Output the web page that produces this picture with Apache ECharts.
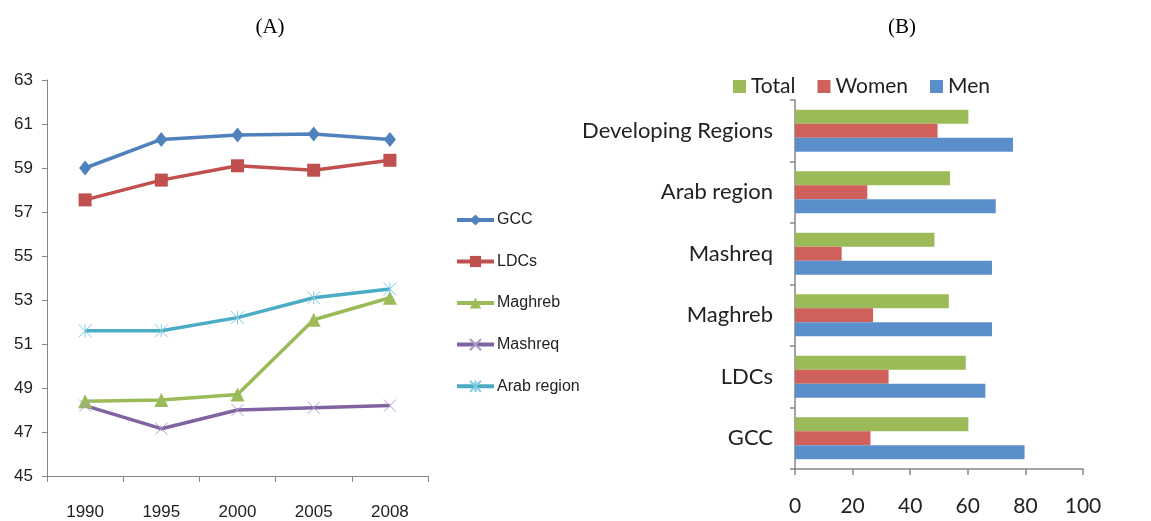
<!DOCTYPE html>
<html>
<head>
<meta charset="utf-8">
<script src="https://cdn.jsdelivr.net/npm/echarts@6/dist/echarts.min.js"></script>
<style>html,body{margin:0;padding:0;background:#fff}#c{width:1151px;height:521px}</style>
</head>
<body>
<div id="c"></div>
<script>
// Panel A data
const years = ['1990', '1995', '2000', '2005', '2008'];
const gcc = [59.0, 60.3, 60.5, 60.55, 60.3];
const ldcs = [57.55, 58.45, 59.1, 58.9, 59.35];
const maghreb = [48.4, 48.45, 48.7, 52.1, 53.1];
const mashreq = [48.2, 47.15, 48.0, 48.1, 48.2];
const arabRegion = [51.6, 51.6, 52.2, 53.1, 53.5];
const yTicksA = [45, 63, 2];

// Panel B data (bottom to top)
const regions = ['GCC', 'LDCs', 'Maghreb', 'Mashreq', 'Arab region', 'Developing Regions'];
const total = [60.2, 59.3, 53.4, 48.4, 53.8, 60.2];
const women = [26.2, 32.5, 27.1, 16.2, 25.1, 49.5];
const men = [79.7, 66.1, 68.4, 68.4, 69.7, 75.7];

const C = {blue:'#4F81BD', red:'#C0504D', green:'#9BBB59', purple:'#8064A2', cyan:'#4BACC6'};
const fA = "'Liberation Sans', sans-serif";
const fB = "Lato, 'Liberation Sans', sans-serif";
const axisGray = '#868686';

const crossPath = 'path://M0,0L10,10M10,0L0,10';
const starPath = 'path://M0,0L10,10M10,0L0,10M5,0L5,10';

function lineSeries(name, data, color, symbol, size, extra) {
  return Object.assign({
    name, type: 'line', data, xAxisIndex: 0, yAxisIndex: 0,
    symbol, symbolSize: size, showAllSymbol: true,
    lineStyle: {color, width: 3.5},
    itemStyle: {color},
    emphasis: {disabled: true}
  }, extra || {});
}

const chart = echarts.init(document.getElementById('c'), null, {renderer: 'canvas'});
chart.setOption({
  animation: false,
  title: [
    {text: '(A)', left: 265, top: 12, textAlign: 'center', textStyle: {fontFamily: "'Liberation Serif', serif", fontSize: 21, fontWeight: 'normal', color: '#000'}},
    {text: '(B)', left: 897, top: 12, textAlign: 'center', textStyle: {fontFamily: "'Liberation Serif', serif", fontSize: 21, fontWeight: 'normal', color: '#000'}}
  ],
  legend: [
    {
      orient: 'vertical', left: 455, top: 212, padding: 0, itemGap: 25.5, itemWidth: 37, itemHeight: 14,
      data: ['GCC', 'LDCs', 'Maghreb', 'Mashreq', 'Arab region'],
      lineStyle: {width: 4},
      textStyle: {fontFamily: fA, fontSize: 16, color: '#222', padding: [0,0,0,-2]}
    },
    {
      orient: 'horizontal', left: 733, top: 76, padding: 0, itemGap: 22, itemWidth: 13, itemHeight: 13,
      icon: 'rect',
      data: ['Total', 'Women', 'Men'],
      textStyle: {fontFamily: fB, fontSize: 21, color: '#222'}
    }
  ],
  grid: [
    {left: 47, top: 80, width: 381, height: 396, containLabel: false},
    {left: 795, top: 100, width: 288, height: 369, containLabel: false}
  ],
  xAxis: [
    {
      gridIndex: 0, type: 'category', data: years, boundaryGap: true,
      axisLine: {lineStyle: {color: axisGray, width: 1}},
      axisTick: {show: true, inside: false, length: 6, alignWithLabel: false, lineStyle: {color: axisGray}},
      axisLabel: {margin: 28, fontFamily: fA, fontSize: 17, color: '#222'},
      splitLine: {show: false}
    },
    {
      gridIndex: 1, type: 'value', min: 0, max: 100, interval: 20,
      axisLine: {show: true, lineStyle: {color: axisGray, width: 1.5}},
      axisTick: {show: true, length: 6, lineStyle: {color: axisGray, width: 1.5}},
      axisLabel: {margin: 27, fontFamily: fB, fontSize: 21, color: '#222'},
      splitLine: {show: false}
    }
  ],
  yAxis: [
    {
      gridIndex: 0, type: 'value', min: yTicksA[0], max: yTicksA[1], interval: yTicksA[2],
      axisLine: {show: true, lineStyle: {color: axisGray, width: 1}},
      axisTick: {show: true, length: 5, lineStyle: {color: axisGray}},
      axisLabel: {margin: 14, fontFamily: fA, fontSize: 17, color: '#222'},
      splitLine: {show: false}
    },
    {
      gridIndex: 1, type: 'category', data: regions, boundaryGap: true,
      axisLine: {show: true, lineStyle: {color: axisGray, width: 1.5}},
      axisTick: {show: true, length: 5, lineStyle: {color: axisGray, width: 1.5}},
      axisLabel: {margin: 22, fontFamily: fB, fontSize: 22, color: '#222'},
      splitLine: {show: false}
    }
  ],
  series: [
    lineSeries('GCC', gcc, C.blue, 'diamond', [12, 15]),
    lineSeries('LDCs', ldcs, C.red, 'rect', 13),
    lineSeries('Maghreb', maghreb, C.green, 'triangle', 14),
    lineSeries('Mashreq', mashreq, C.purple, crossPath, 12, {itemStyle: {color: 'none', borderColor: '#a99bc8', borderWidth: 1}}),
    lineSeries('Arab region', arabRegion, C.cyan, starPath, 13, {itemStyle: {color: 'none', borderColor: '#7fcbe0', borderWidth: 1}}),
    {name: 'Total', type: 'bar', xAxisIndex: 1, yAxisIndex: 1, data: total, itemStyle: {color: '#9BBB59'}, barGap: '0%', barCategoryGap: '32%', emphasis: {disabled: true}},
    {name: 'Women', type: 'bar', xAxisIndex: 1, yAxisIndex: 1, data: women, itemStyle: {color: '#D0605A'}, barGap: '0%', barCategoryGap: '32%', emphasis: {disabled: true}},
    {name: 'Men', type: 'bar', xAxisIndex: 1, yAxisIndex: 1, data: men, itemStyle: {color: '#5B8FCC'}, barGap: '0%', barCategoryGap: '32%', emphasis: {disabled: true}}
  ]
});
</script>
</body>
</html>
